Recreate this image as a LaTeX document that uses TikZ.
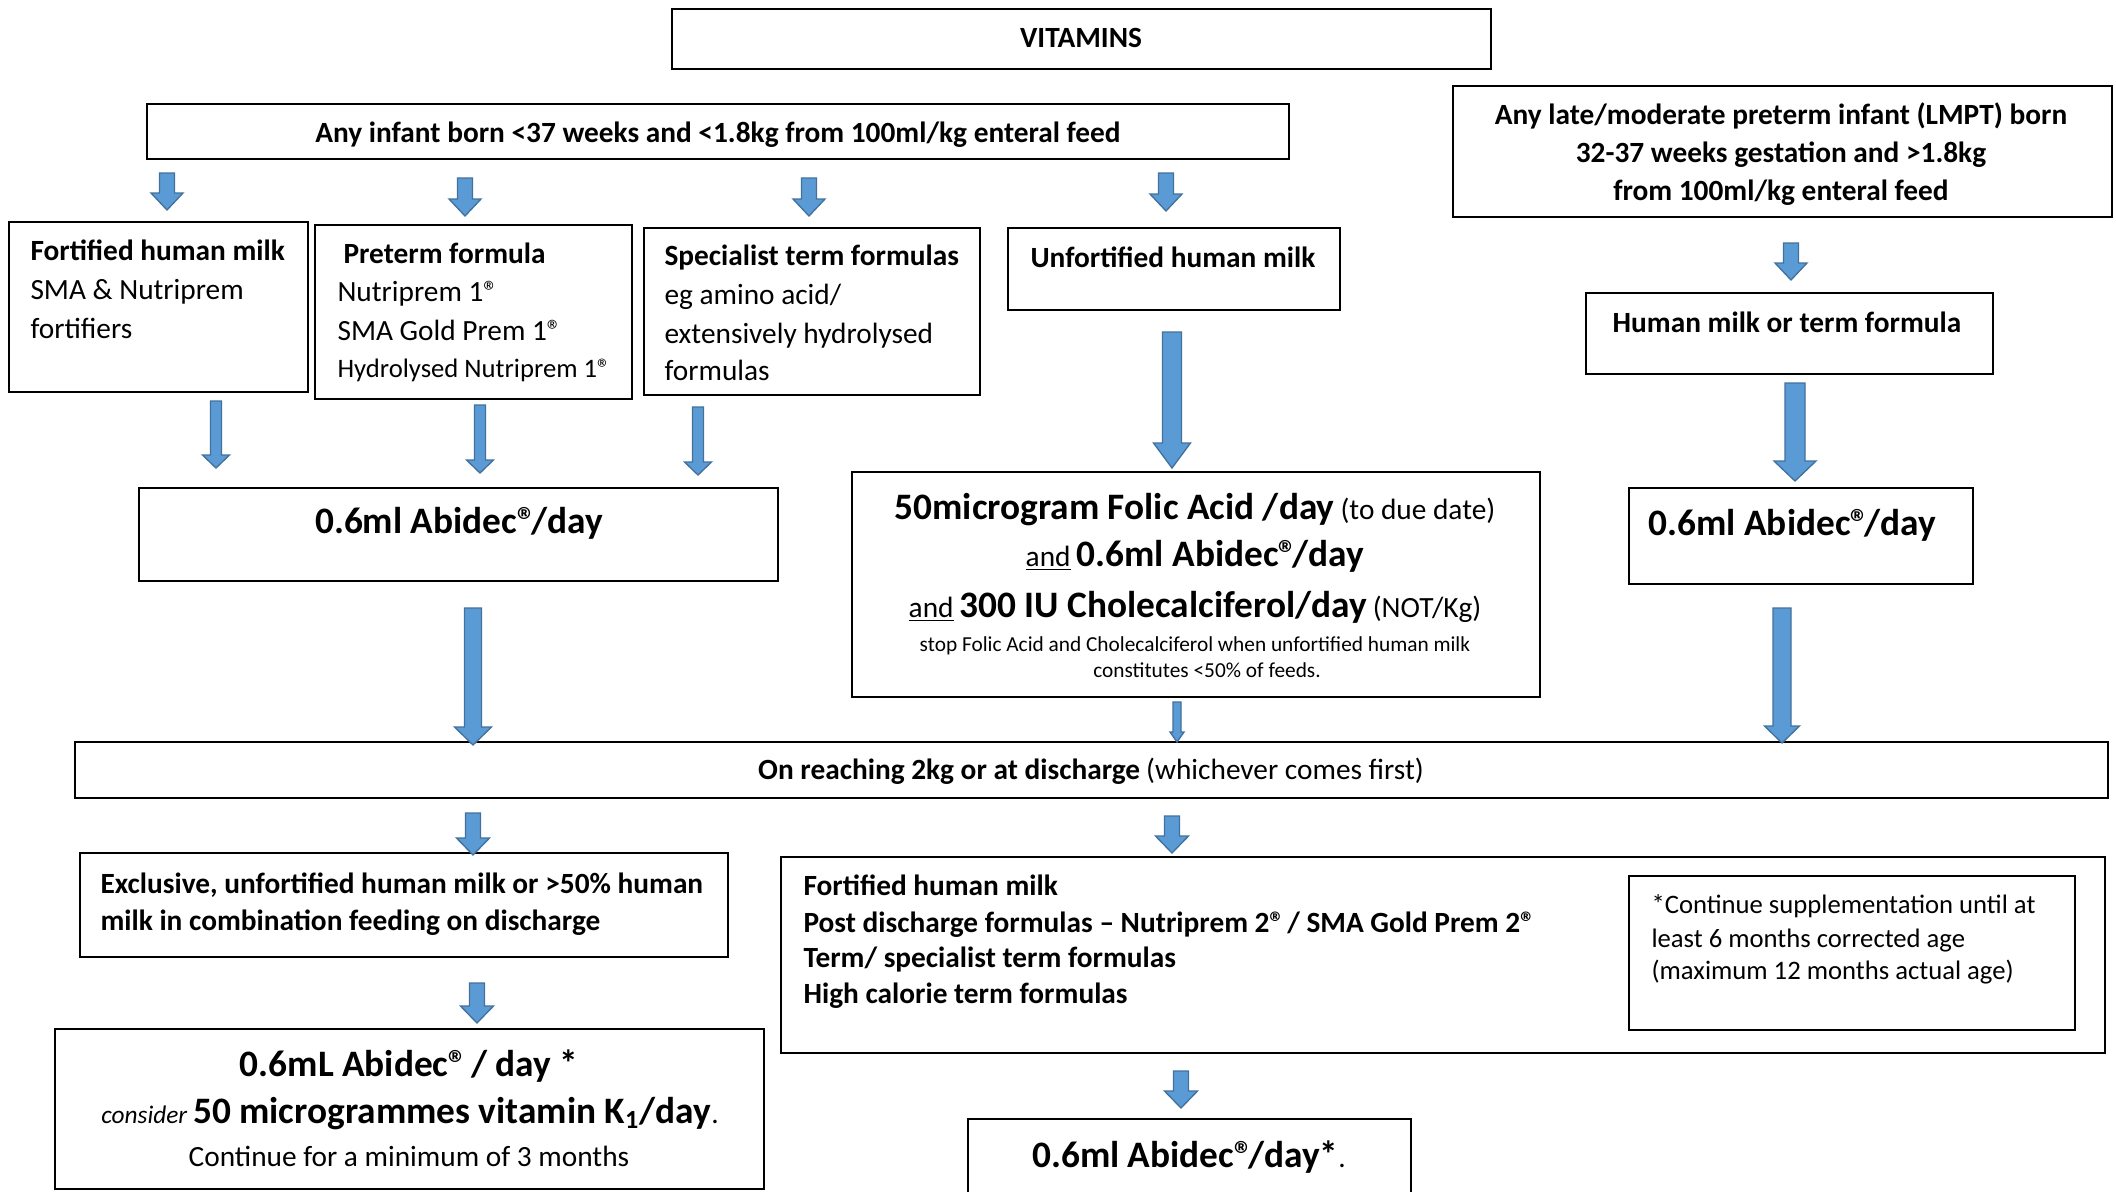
\documentclass[tikz,border=0pt]{standalone}
\usepackage{fontspec}
\setmainfont{Carlito}
\usetikzlibrary{calc}
\definecolor{arrfill}{HTML}{5B9BD5}
\definecolor{arrline}{HTML}{41719C}
\tikzset{
  box/.style={draw=black, line width=0.7pt, inner sep=0pt, fill=white},
  tl/.style={anchor=base west, inner sep=0pt},
  tc/.style={anchor=base, inner sep=0pt},
  arr/.style={fill=arrfill, draw=arrline, line width=0.5pt, line join=miter},
}
\newcommand\szN{\fontsize{11}{13}\selectfont}
\newcommand\szL{\fontsize{14}{17}\selectfont}
\newcommand\szS{\fontsize{8}{10}\selectfont}
\newcommand\szT{\fontsize{10}{12}\selectfont}
\newcommand\szC{\fontsize{9.5}{11}\selectfont}
\newcommand\regmk{®\kern-0.13em}
% box: name, x1, y1, x2, y2 (pixel units)
\newcommand\bx[5]{\node[box, minimum width={(#4-#2)*0.375pt}, minimum height={(#5-#3)*0.375pt}] (#1) at ({(#2+#4)/2},{(#3+#5)/2}) {};}
% block arrow: name, x, ytop, ytip, half shaft, half head, head length
\newcommand\barrow[7]{%
  \coordinate (#1-s) at (#2,#3);
  \coordinate (#1-e) at (#2,#4);
  \filldraw[arr] ($(#1-s)+(-#5,0)$) -- ($(#1-s)+(#5,0)$) -- ($(#1-e)+(#5,-#7)$) -- ($(#1-e)+(#6,-#7)$) -- (#1-e) -- ($(#1-e)+(-#6,-#7)$) -- ($(#1-e)+(-#5,-#7)$) -- cycle;}
\begin{document}
\begin{tikzpicture}[x=0.375pt, y=-0.375pt]
\useasboundingbox (0,0) rectangle (2116,1191);
\clip (0,0) rectangle (2116,1191);
\fill[white] (0,0) rectangle (2116,1191);

% boxes
\bx{vit}{672}{9}{1491}{69}
\bx{inf}{147}{104}{1289}{159}
\bx{lmpt}{1453}{86}{2112}{217}
\bx{fhm}{9}{222}{308}{392}
\bx{pre}{315}{225}{632}{399}
\bx{spec}{644}{228}{980}{395}
\bx{unf}{1008}{228}{1340}{310}
\bx{hmt}{1586}{293}{1993}{374}
\bx{abL}{139}{488}{778}{581}
\bx{fol}{852}{472}{1540}{697}
\bx{abR}{1629}{488}{1973}{584}
\bx{reach}{75}{742}{2108}{798}
\bx{excl}{80}{853}{728}{957}
\bx{fort}{781}{857}{2105}{1053}
\bx{cont}{1629}{876}{2075}{1030}
\bx{botL}{55}{1029}{764}{1189}
\bx{botM}{968}{1119}{1411}{1240}

% texts
\node[tc] (tvit) at (1081,47) {\szN\bfseries VITAMINS};
\node[tc] (tinf) at (718,142) {\szN\bfseries Any infant born <37 weeks and <1.8kg from 100ml/kg enteral feed};
\node[tc] (tlm1) at (1781,124) {\szN\bfseries Any late/moderate preterm infant (LMPT) born};
\node[tc] (tlm2) at (1781,162) {\szN\bfseries 32-37 weeks gestation and >1.8kg};
\node[tc] (tlm3) at (1781,200) {\szN\bfseries from 100ml/kg enteral feed};

\node[tl] (tf1) at (30,260) {\szN\bfseries Fortified human milk};
\node[tl] (tf2) at (30,299) {\szN SMA \& Nutriprem};
\node[tl] (tf3) at (30,338) {\szN fortifiers};

\node[tl] (tp1) at (343,263) {\szN\bfseries Preterm formula};
\node[tl] (tp2) at (337,301) {\szN Nutriprem 1\regmk};
\node[tl] (tp3) at (337,340) {\szN SMA Gold Prem 1\regmk};
\node[tl] (tp4) at (337,377) {\szT Hydrolysed Nutriprem 1\regmk};

\node[tl] (ts1) at (664,265) {\szN\bfseries Specialist term formulas};
\node[tl] (ts2) at (664,304) {\szN eg amino acid/};
\node[tl] (ts3) at (664,343) {\szN extensively hydrolysed};
\node[tl] (ts4) at (664,380) {\szN formulas};

\node[tl] (tu1) at (1030,267) {\szN\bfseries Unfortified human milk};
\node[tc] (th1) at (1787,332) {\szN\bfseries Human milk or term formula};

\node[tc] (tabL) at (459,533) {\szL\bfseries 0.6ml Abidec\regmk/day};
\node[tl] (tabR) at (1648,535) {\szL\bfseries 0.6ml Abidec\regmk/day};

\node[tc] (to1) at (1195,519) {{\szL\bfseries 50microgram Folic Acid /day} {\szN (to due date)}};
\node[tc] (to2) at (1195,566) {{\szN\underline{and}} {\szL\bfseries 0.6ml Abidec\regmk/day}};
\node[tc] (to3) at (1195,617) {{\szN\underline{and}} {\szL\bfseries 300 IU Cholecalciferol/day} {\szN (NOT/Kg)}};
\node[tc] (to4) at (1195,651) {\szS stop Folic Acid and Cholecalciferol when unfortified human milk};
\node[tc] (to5) at (1207,677) {\szS constitutes <50\% of feeds.};

\node[tc] (tre) at (1091,779) {{\szN\bfseries On reaching 2kg or at discharge} {\szN (whichever comes first)}};

\node[tl] (te1) at (100,893) {\szN\bfseries Exclusive, unfortified human milk or >50\% human};
\node[tl] (te2) at (100,930) {\szN\bfseries milk in combination feeding on discharge};

\node[tl] (tr1) at (803,895) {\szN\bfseries Fortified human milk};
\node[tl] (tr2) at (803,932) {\szN\bfseries Post discharge formulas – Nutriprem 2\regmk{} / SMA Gold Prem 2\regmk};
\node[tl] (tr3) at (803,967) {\szN\bfseries Term/ specialist term formulas};
\node[tl] (tr4) at (803,1003) {\szN\bfseries High calorie term formulas};

\node[tl] (tc1) at (1651,913) {\szT *Continue supplementation until at};
\node[tl] (tc2) at (1651,947) {\szT least 6 months corrected age};
\node[tl] (tc3) at (1651,979) {\szT (maximum 12 months actual age)};

\node[tc] (tb1) at (409,1076) {\szL\bfseries 0.6mL Abidec\regmk{} / day *};
\node[tc] (tb2) at (410,1123) {{\szC\itshape consider} {\szL\bfseries 50 microgrammes vitamin K\textsubscript{1}/day}{\szN .}};
\node[tc] (tb3) at (409,1166) {\szN Continue for a minimum of 3 months};

\node[tc] (tm1) at (1189,1167) {{\szL\bfseries 0.6ml Abidec\regmk/day*}{\szN .}};

% arrows
\barrow{a1}{167}{173}{210}{7.5}{16}{17}
\barrow{a2}{465}{178}{216}{7.5}{16}{17}
\barrow{a3}{809}{178}{216}{7.5}{16}{17}
\barrow{a4}{1166}{173}{211}{7.5}{16}{17}
\barrow{a5}{1791}{243}{280}{7.5}{16}{17}
\barrow{a6}{216}{401}{468}{5.5}{13.5}{13}
\barrow{a7}{480}{405}{473}{5.5}{13.5}{13}
\barrow{a8}{698}{407}{475}{5.5}{13.5}{13}
\barrow{a9}{1172}{332}{468}{9.5}{18.5}{25}
\barrow{a10}{1795}{383}{481}{10}{21}{20}
\barrow{a11}{473}{608}{745}{8.5}{18.5}{18}
\barrow{a12}{1177}{702}{742}{4}{7}{10}
\barrow{a13}{1782}{608}{743}{9}{17.5}{17}
\barrow{a14}{473}{813}{855}{7.5}{16.5}{17}
\barrow{a15}{477}{983}{1023}{7.5}{16.5}{17}
\barrow{a16}{1172}{816}{853}{7.5}{16.5}{17}
\barrow{a17}{1181}{1071}{1108}{7.5}{16.5}{17}
\end{tikzpicture}
\end{document}
